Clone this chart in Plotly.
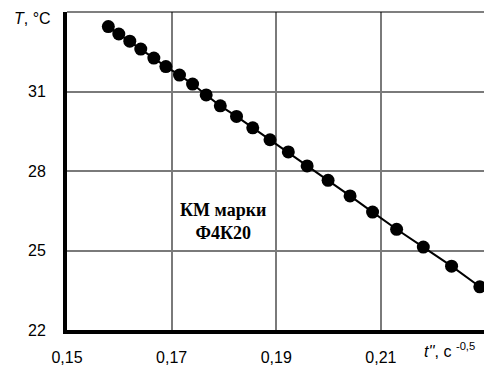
import plotly.graph_objects as go

# data (t'' in s^-0.5, T in °C)
t_vals = [0.1579, 0.1599, 0.1620, 0.1641, 0.1666, 0.1689, 0.1715, 0.1740,
          0.1766, 0.1793, 0.1824, 0.1855, 0.1888, 0.1923, 0.1959, 0.1999,
          0.2041, 0.2084, 0.2130, 0.2181, 0.2235, 0.2289]
T_vals = [33.45, 33.17, 32.90, 32.60, 32.26, 31.94, 31.62, 31.28,
          30.87, 30.46, 30.06, 29.63, 29.18, 28.72, 28.19, 27.65,
          27.06, 26.45, 25.80, 25.13, 24.41, 23.63]

x_ticks = [0.15, 0.17, 0.19, 0.21]
x_tick_text = ["0,15", "0,17", "0,19", "0,21"]
y_ticks = [22, 25, 28, 31]
y_tick_text = ["22", "25", "28", "31"]

label_text = "<b>КМ марки<br>Ф4К20</b>"

fig = go.Figure()
fig.add_trace(go.Scatter(
    x=t_vals, y=T_vals, mode="lines+markers",
    line=dict(color="black", width=2),
    marker=dict(color="black", size=13),
    showlegend=False, cliponaxis=False,
))

font = dict(family="Liberation Sans, Arial, sans-serif", size=16, color="black")

fig.update_layout(
    width=484, height=365,
    margin=dict(l=67, r=0, t=12, b=35),
    plot_bgcolor="white", paper_bgcolor="white",
    font=font,
    xaxis=dict(
        range=[0.15, 0.2297], tickvals=x_ticks, ticktext=x_tick_text,
        showgrid=True, gridcolor="#7a7a7a", gridwidth=1.5,
        showline=True, linecolor="black", linewidth=4,
        ticks="", ticklabelstandoff=10, zeroline=False,
        tickfont=font,
    ),
    yaxis=dict(
        range=[22, 34], tickvals=y_ticks, ticktext=y_tick_text,
        showgrid=True, gridcolor="#7a7a7a", gridwidth=1.5,
        showline=True, linecolor="black", linewidth=4,
        ticks="", ticklabelstandoff=14, zeroline=False,
        tickfont=font,
    ),
    shapes=[dict(type="line", xref="paper", yref="paper", x0=0, x1=1, y0=1, y1=1,
                 line=dict(color="black", width=1.2))],
    annotations=[
        dict(x=0.1798, y=26.1, xref="x", yref="y", text=label_text, showarrow=False,
             font=dict(family="Liberation Serif, Times New Roman, serif", size=18, color="black"),
             align="center"),
        dict(x=-67/417, y=1.0, xref="paper", yref="paper", xanchor="left", yanchor="middle",
             text="<i>T</i>, °C", showarrow=False, font=font, xshift=12, yshift=-6),
        dict(x=1, y=0, xref="paper", yref="paper", xanchor="left", yanchor="top",
             text="<i>t''</i>, с <sup>-0,5</sup>", showarrow=False, font=font,
             xshift=-62, yshift=-8),
    ],
)

fig.write_html("out.html")
